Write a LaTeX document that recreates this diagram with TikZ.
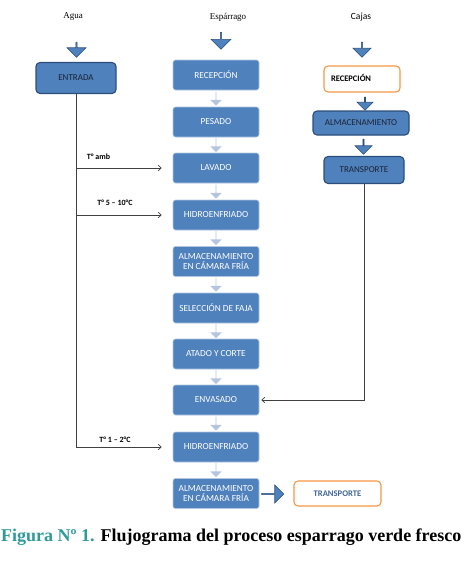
\documentclass[tikz,border=0pt]{standalone}
\usepackage{fontspec}
\setmainfont{Liberation Serif}
\newfontfamily\calibri{Carlito}
\usetikzlibrary{shapes.arrows,arrows.meta}
\definecolor{obl}{HTML}{4F81BD}
\definecolor{obd}{HTML}{2C4E7A}
\definecolor{oor}{HTML}{F79646}
\definecolor{olight}{HTML}{B6C5DF}
\definecolor{tealc}{HTML}{2E9A9A}
\definecolor{dtext}{HTML}{1B2333}
\begin{document}
\begin{tikzpicture}[x=1pt,y=-1pt,
  mbox/.style={rectangle, rounded corners=2.5pt, fill=obl, draw=obl!45!white, line width=0.6pt,
    minimum width=86pt, minimum height=30pt, inner sep=1pt, text=white, align=center,
    font=\calibri\fontsize{9.3}{10.2}\selectfont},
  dbox/.style={rectangle, rounded corners=4pt, fill=obl, draw=obd, line width=1.1pt,
    inner sep=1pt, text=dtext, align=center, font=\calibri\fontsize{9}{10}\selectfont},
  obox/.style={rectangle, rounded corners=4pt, fill=white, draw=oor, line width=1.1pt,
    inner sep=1pt, align=center},
  blk/.style={single arrow, fill=obl, draw=obd, line width=0.6pt, inner sep=0pt,
    single arrow head extend=4.5pt, single arrow tip angle=90, single arrow head indent=0pt},
  lgt/.style={single arrow, fill=olight, draw=none, inner sep=0pt,
    single arrow head extend=2.5pt, single arrow tip angle=90, single arrow head indent=0pt,
    minimum width=11.5pt, minimum height=14pt, rotate=-90},
  conn/.style={draw=black!75, line width=0.7pt, -{Straight Barb[length=3pt,width=5.5pt]}},
  line/.style={draw=black!75, line width=0.7pt},
  hd/.style={font=\fontsize{9}{10}\selectfont},
  tl/.style={font=\calibri\bfseries\fontsize{8}{9}\selectfont, inner sep=1pt}
]
\useasboundingbox (0,0) rectangle (467,562);

% headers
\node[hd] (hagua) at (73,17) {Agua};
\node[hd] (hesp) at (228,17) {Espárrago};
\node[font=\calibri\fontsize{9.5}{10}\selectfont] (hcaj) at (361,17) {Cajas};

% top block arrows
\node[blk, rotate=-90, minimum width=19pt, minimum height=15pt] (a1) at (76.5,49.5) {};
\node[blk, rotate=-90, minimum width=20pt, minimum height=17pt] (a2) at (221,40.5) {};
\node[blk, rotate=-90, minimum width=18pt, minimum height=15pt] (a3) at (362,49.5) {};

% left column
\node[dbox, minimum width=80pt, minimum height=31pt] (ent) at (76,78) {ENTRADA};

% middle column
\node[mbox] (rec) at (216,75) {RECEPCIÓN};
\node[mbox] (pes) at (216,122) {PESADO};
\node[mbox] (lav) at (216,168) {LAVADO};
\node[mbox] (hid1) at (216,215) {HIDROENFRIADO};
\node[mbox] (alm1) at (216,261.5) {ALMACENAMIENTO\\EN CÁMARA FRÍA};
\node[mbox] (sel) at (216,308) {SELECCIÓN DE FAJA};
\node[mbox] (ata) at (216,354) {ATADO Y CORTE};
\node[mbox] (env) at (216,400) {ENVASADO};
\node[mbox] (hid2) at (216,447) {HIDROENFRIADO};
\node[mbox] (alm2) at (216,493.5) {ALMACENAMIENTO\\EN CÁMARA FRÍA};

% light arrows between middle boxes
\foreach \y in {98.5,145,191.5,238,284.5,331,377,423.5,470}
  \node[lgt] at (216,\y) {};

% right column
\node[obox, minimum width=76pt, minimum height=26pt, text width=62pt, align=left,
  inner xsep=7pt, font=\calibri\bfseries\fontsize{8.5}{9}\selectfont, text=black] (rec2) at (362,79) {\raisebox{3pt}{RECEPCIÓN}};
\node[blk, rotate=-90, minimum width=16pt, minimum height=13pt] (a4) at (365,103.5) {};
\node[dbox, minimum width=96pt, minimum height=24pt] (alm3) at (361,123) {ALMACENAMIENTO};
\node[blk, rotate=-90, minimum width=17pt, minimum height=15pt] (a5) at (363.5,146.5) {};
\node[dbox, minimum width=80pt, minimum height=27pt] (tra) at (364,170) {TRANSPORTE};

% bottom
\node[blk, minimum width=18pt, minimum height=22pt] (a6) at (272.5,494) {};
\node[obox, minimum width=87pt, minimum height=25pt, text=obl!80!black,
  font=\calibri\bfseries\fontsize{8.6}{9}\selectfont] (tra2) at (337.5,493.5) {TRANSPORTE};

% connectors from water line
\draw[line] (ent.south) -- (ent.south |- hid2.west);
\draw[conn, shorten >=11pt] (ent.south |- lav.west) -- (lav.west);
\draw[conn, shorten >=11pt] (ent.south |- hid1.west) -- (hid1.west);
\draw[conn, shorten >=11pt] (ent.south |- hid2.west) -- (hid2.west);
\node[tl] (t1) at (98.5,156.5) {T° amb};
\node[tl] (t2) at (115,202.5) {T° 5 – 10°C};
\node[tl, fill=white, inner xsep=4pt, inner ysep=3.5pt] (t3) at (115,440) {T° 1 – 2°C};

% boxes line
\draw[conn, shorten >=2pt] (tra.south) |- (env.east);

% caption
\node[anchor=base west, inner sep=0pt, font=\bfseries\fontsize{18}{20}\selectfont] (cap) at (1,541)
  {\textcolor{tealc}{Figura Nº 1.} Flujograma del proceso esparrago verde fresco};
\end{tikzpicture}
\end{document}
